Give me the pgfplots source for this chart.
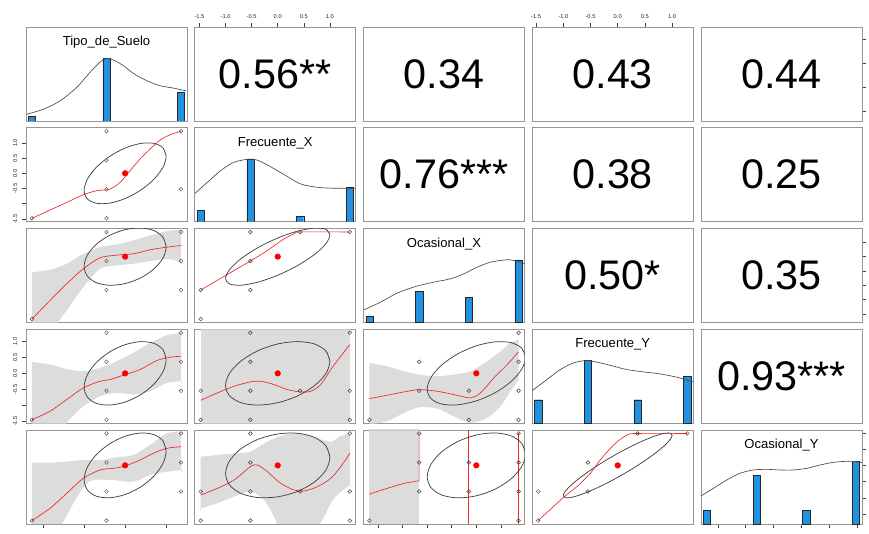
\documentclass[border=0pt]{standalone}
\usepackage{fontspec}
\setmainfont{Liberation Sans}
\usepackage{pgfplots}
\pgfplotsset{compat=1.18}
\definecolor{histblue}{RGB}{33,145,225}
\definecolor{bandgray}{RGB}{211,211,211}
\definecolor{framegray}{RGB}{150,150,150}
\definecolor{lored}{RGB}{240,40,40}
\def\xa{19.5pt}\def\xb{146.0625pt}\def\xc{272.625pt}\def\xd{399.1875pt}\def\xe{525.75pt}
\def\ya{309pt}\def\yb{233.4375pt}\def\yc{157.875pt}\def\yd{82.3125pt}\def\ye{6.75pt}
\tikzset{
  lab/.style={font=\fontsize{9.8}{11}\selectfont},
  cor/.style={font=\fontsize{31}{36}\selectfont},
}
\pgfplotsset{
  panel/.style={scale only axis, width=120.75pt, height=70.5pt, anchor=south west,
    axis line style={framegray, line width=0.7pt}, xtick=\empty, ytick=\empty, clip=true,
    major tick length=3pt, tick align=outside, tick style={black!75, line width=0.45pt},
    ticklabel style={font=\fontsize{4.3}{5}\selectfont, text=black!85}},
  xV1/.style={xmin=-2.417,xmax=1.509}, yV1/.style={ymin=-2.417,ymax=1.509},
  xV2/.style={xmin=-1.590,xmax=1.495}, yV2/.style={ymin=-1.590,ymax=1.495},
  xV3/.style={xmin=-2.297,xmax=0.981}, yV3/.style={ymin=-2.297,ymax=0.981},
  xV4/.style={xmin=-1.571,xmax=1.388}, yV4/.style={ymin=-1.571,ymax=1.388},
  xV5/.style={xmin=-1.805,xmax=1.090}, yV5/.style={ymin=-1.805,ymax=1.090},
  pts/.style={only marks, mark=o, mark size=1.4pt, color=black!75, mark options={line width=0.35pt}},
  band/.style={fill=bandgray, fill opacity=0.8, draw=none},
  lo/.style={draw=lored, color=lored, line width=0.5pt, no markers},
  ell/.style={color=black!75, line width=0.55pt, smooth, no markers},
  mn/.style={only marks, mark=*, color=red, mark size=2.1pt},
  dens/.style={color=black!70, line width=0.5pt, smooth, no markers},
  hb/.style={ybar, bar shift=0pt, fill=histblue, draw=black!85, line width=0.3pt},
}
\begin{document}
\begin{tikzpicture}
\path[use as bounding box] (0,0) rectangle (651.75pt,399.75pt);

% ================= Row 1 =================
\begin{axis}[panel, xV1, ymin=0, ymax=1.5, at={(\xa,\ya)}]
\addplot[hb, bar width=0.177] coordinates {(-2.272,0.0769) (-0.4545,1) (1.3635,0.4615)};
\addplot[dens] coordinates {(-2.401,0.107) (-1.994,0.188) (-1.588,0.321) (-1.181,0.536) (-0.856,0.777) (-0.613,0.938) (-0.466,1.0) (-0.287,0.975) (-0.044,0.884) (0.2,0.761) (0.526,0.643) (0.851,0.563) (1.176,0.525) (1.477,0.482)};
\node[lab] at (rel axis cs:0.5,0.835) {Tipo\_de\_Suelo};
\end{axis}

\begin{axis}[panel, xV2, yV1, at={(\xb,\ya)}, xtick={-1.5,-1,-0.5,0,0.5,1}, xticklabels={-1.5,-1.0,-0.5,0.0,0.5,1.0}, xtick pos=right, xticklabel pos=right]
\node[cor] at (rel axis cs:0.5,0.5) {0.56**};
\end{axis}

\begin{axis}[panel, xV3, yV1, at={(\xc,\ya)}]
\node[cor] at (rel axis cs:0.5,0.5) {0.34};
\end{axis}

\begin{axis}[panel, xV4, yV1, at={(\xd,\ya)}, xtick={-1.5,-1,-0.5,0,0.5,1}, xticklabels={-1.5,-1.0,-0.5,0.0,0.5,1.0}, xtick pos=right, xticklabel pos=right]
\node[cor] at (rel axis cs:0.5,0.5) {0.43};
\end{axis}

\begin{axis}[panel, xV5, yV1, at={(\xe,\ya)}, ytick={-2,-1,0,1}, yticklabels={}, ytick pos=right]
\node[cor] at (rel axis cs:0.5,0.5) {0.44};
\end{axis}

% ================= Row 2 =================
\begin{axis}[panel, xV1, yV2, at={(\xa,\yb)}, ytick={-1.5,-1,-0.5,0,0.5,1}, yticklabels={-1.5,,-0.5,0.0,0.5,1.0}, ytick pos=left, yticklabel style={rotate=90, anchor=south}]
\addplot[pts] coordinates {(-2.272,-1.476) (-0.4545,1.381) (-0.4545,0.429) (-0.4545,-0.524) (-0.4545,-1.476) (1.3635,1.381) (1.3635,-0.524)};
\addplot[lo, smooth] coordinates {(-2.272,-1.476) (-1.832,-1.207) (-1.425,-0.956) (-1.019,-0.704) (-0.694,-0.573) (-0.369,-0.518) (-0.125,-0.299) (0.119,0.084) (0.363,0.467) (0.607,0.795) (0.851,1.09) (1.095,1.265) (1.3635,1.381)};
\addplot[ell] coordinates {(1,0.56) (0.924,0.835) (0.707,0.982) (0.383,0.980) (0,0.829) (-0.383,0.551) (-0.707,0.190) (-0.924,-0.200) (-1,-0.56) (-0.924,-0.835) (-0.707,-0.982) (-0.383,-0.980) (0,-0.829) (0.383,-0.551) (0.707,-0.190) (0.924,0.200) (1,0.56) (0.924,0.835)};
\addplot[mn] coordinates {(0,0)};
\end{axis}

\begin{axis}[panel, xV2, ymin=0, ymax=1.5, at={(\xb,\yb)}]
\addplot[hb, bar width=0.139] coordinates {(-1.476,0.182) (-0.524,1) (0.429,0.0909) (1.381,0.545)};
\addplot[dens] coordinates {(-1.584,0.454) (-1.347,0.630) (-1.092,0.817) (-0.836,0.950) (-0.55,1.0) (-0.40,0.985) (-0.198,0.907) (0.122,0.753) (0.441,0.603) (0.760,0.550) (1.080,0.534) (1.335,0.534) (1.495,0.523)};
\node[lab] at (rel axis cs:0.5,0.835) {Frecuente\_X};
\end{axis}

\begin{axis}[panel, xV3, yV2, at={(\xc,\yb)}]
\node[cor] at (rel axis cs:0.5,0.5) {0.76***};
\end{axis}

\begin{axis}[panel, xV4, yV2, at={(\xd,\yb)}]
\node[cor] at (rel axis cs:0.5,0.5) {0.38};
\end{axis}

\begin{axis}[panel, xV5, yV2, at={(\xe,\yb)}]
\node[cor] at (rel axis cs:0.5,0.5) {0.25};
\end{axis}

% ================= Row 3 =================
\begin{axis}[panel, xV1, yV3, at={(\xa,\yc)}]
\addplot[pts] coordinates {(-2.272,-2.176) (-0.4545,0.860) (-0.4545,-0.152) (-0.4545,-1.164) (1.3635,0.860) (1.3635,-0.152) (1.3635,-1.164)};
\addplot[band, smooth] coordinates {(-2.272,-0.542) (-2.272,-0.542) (-1.832,-0.460) (-1.425,-0.251) (-1.019,0.098) (-0.613,0.330) (-0.206,0.423) (0.2,0.563) (0.607,0.737) (1.013,0.888) (1.3635,0.935) (1.3635,0.935) (1.3635,-0.193) (1.3635,-0.193) (1.013,-0.077) (0.607,-0.158) (0.2,-0.251) (-0.206,-0.309) (-0.613,-0.425) (-1.019,-1.065) (-1.425,-1.878) (-1.629,-2.285) (-1.832,-2.924) (-2.272,-3.62) (-2.272,-3.62) (-2.272,-0.542)};
\addplot[lo, smooth] coordinates {(-2.272,-2.176) (-1.832,-1.530) (-1.425,-0.948) (-1.019,-0.425) (-0.613,-0.042) (-0.206,0.051) (0.2,0.098) (0.607,0.237) (1.013,0.330) (1.3635,0.388)};
\addplot[ell] coordinates {(1,0.34) (0.924,0.674) (0.707,0.905) (0.383,0.999) (0,0.940) (-0.383,0.739) (-0.707,0.425) (-0.924,0.046) (-1,-0.34) (-0.924,-0.674) (-0.707,-0.905) (-0.383,-0.999) (0,-0.940) (0.383,-0.739) (0.707,-0.425) (0.924,-0.046) (1,0.34) (0.924,0.674)};
\addplot[mn] coordinates {(0,0)};
\end{axis}

\begin{axis}[panel, xV2, yV3, at={(\xb,\yc)}]
\addplot[pts] coordinates {(-1.476,-1.164) (-1.476,-2.176) (-0.524,0.860) (-0.524,-0.152) (-0.524,-1.164) (0.429,0.860) (1.381,0.860)};
\addplot[lo, smooth] coordinates {(-1.476,-1.164) (-0.524,-0.152) (-0.198,0.214) (0.122,0.621) (0.313,0.795) (0.429,0.860) (1.381,0.860)};
\addplot[ell] coordinates {(1,0.76) (0.924,0.951) (0.707,0.997) (0.383,0.892) (0,0.650) (-0.383,0.309) (-0.707,-0.078) (-0.924,-0.453) (-1,-0.76) (-0.924,-0.951) (-0.707,-0.997) (-0.383,-0.892) (0,-0.650) (0.383,-0.309) (0.707,0.078) (0.924,0.453) (1,0.76) (0.924,0.951)};
\addplot[mn] coordinates {(0,0)};
\end{axis}

\begin{axis}[panel, xV3, ymin=0, ymax=1.5, at={(\xc,\yc)}]
\addplot[hb, bar width=0.148] coordinates {(-2.176,0.1) (-1.164,0.5) (-0.152,0.4) (0.860,1)};
\addplot[dens] coordinates {(-2.290,0.202) (-1.951,0.324) (-1.612,0.468) (-1.238,0.574) (-0.865,0.644) (-0.526,0.697) (-0.254,0.777) (0.017,0.883) (0.289,0.963) (0.560,0.996) (0.68,1.0) (0.832,0.979) (0.981,0.936)};
\node[lab] at (rel axis cs:0.5,0.835) {Ocasional\_X};
\end{axis}

\begin{axis}[panel, xV4, yV3, at={(\xd,\yc)}]
\node[cor] at (rel axis cs:0.5,0.5) {0.50*};
\end{axis}

\begin{axis}[panel, xV5, yV3, at={(\xe,\yc)}, ytick={-2,-1.5,-1,-0.5,0,0.5}, yticklabels={}, ytick pos=right]
\node[cor] at (rel axis cs:0.5,0.5) {0.35};
\end{axis}

% ================= Row 4 =================
\begin{axis}[panel, xV1, yV4, at={(\xa,\yd)}, ytick={-1.5,-1,-0.5,0,0.5,1}, yticklabels={-1.5,,-0.5,0.0,0.5,1.0}, ytick pos=left, yticklabel style={rotate=90, anchor=south}]
\addplot[pts] coordinates {(-2.272,-1.461) (-0.4545,1.278) (-0.4545,0.365) (-0.4545,-0.548) (-0.4545,-1.461) (1.3635,1.278) (1.3635,0.365) (1.3635,-0.548)};
\addplot[band, smooth] coordinates {(-2.272,0.360) (-2.272,0.360) (-1.832,0.276) (-1.425,0.139) (-1.019,0.066) (-0.613,0.171) (-0.206,0.381) (0.2,0.643) (0.607,0.958) (1.013,1.199) (1.3635,1.273) (1.3635,1.273) (1.3635,-0.249) (1.3635,-0.249) (1.013,-0.302) (0.607,-0.564) (0.2,-0.669) (-0.206,-0.616) (-0.613,-0.721) (-1.019,-1.036) (-1.425,-1.561) (-1.832,-2.348) (-2.272,-3.082) (-2.272,-3.082) (-2.272,0.360)};
\addplot[lo, smooth] coordinates {(-2.272,-1.461) (-1.832,-1.193) (-1.425,-0.826) (-1.019,-0.459) (-0.613,-0.249) (-0.369,-0.196) (0,-0.039) (0.363,0.118) (0.770,0.402) (1.095,0.507) (1.3635,0.538)};
\addplot[ell] coordinates {(1,0.43) (0.924,0.743) (0.707,0.942) (0.383,0.999) (0,0.903) (-0.383,0.670) (-0.707,0.334) (-0.924,-0.052) (-1,-0.43) (-0.924,-0.743) (-0.707,-0.942) (-0.383,-0.999) (0,-0.903) (0.383,-0.670) (0.707,-0.334) (0.924,0.052) (1,0.43) (0.924,0.743)};
\addplot[mn] coordinates {(0,0)};
\end{axis}

\begin{axis}[panel, xV2, yV4, at={(\xb,\yd)}]
\addplot[pts] coordinates {(-1.476,-0.548) (-1.476,-1.461) (-0.524,1.278) (-0.524,0.365) (-0.524,-0.548) (-0.524,-1.461) (0.429,-0.548) (1.381,1.278) (1.381,-0.548) (1.381,-1.461)};
\addplot[band] coordinates {(-1.476,-3) (-1.476,3) (1.381,3) (1.381,-3)};
\addplot[lo, smooth] coordinates {(-1.476,-0.847) (-1.156,-0.616) (-0.836,-0.406) (-0.524,-0.270) (-0.325,-0.249) (-0.070,-0.354) (0.186,-0.511) (0.441,-0.585) (0.633,-0.564) (0.824,-0.354) (1.016,0.118) (1.207,0.538) (1.381,0.905)};
\addplot[ell] coordinates {(1,0.38) (0.924,0.705) (0.707,0.923) (0.383,1.0) (0,0.925) (-0.383,0.709) (-0.707,0.385) (-0.924,0.003) (-1,-0.38) (-0.924,-0.705) (-0.707,-0.923) (-0.383,-1.0) (0,-0.925) (0.383,-0.709) (0.707,-0.385) (0.924,-0.003) (1,0.38) (0.924,0.705)};
\addplot[mn] coordinates {(0,0)};
\end{axis}

\begin{axis}[panel, xV3, yV4, at={(\xc,\yd)}]
\addplot[pts] coordinates {(-2.176,-1.461) (-1.164,0.365) (-1.164,-0.548) (-0.152,-0.548) (-0.152,-1.461) (0.860,1.278) (0.860,0.365) (0.860,-0.548) (0.860,-1.461)};
\addplot[band, smooth] coordinates {(-2.176,0.328) (-2.176,0.328) (-1.815,0.223) (-1.476,0.066) (-1.157,-0.039) (-0.797,-0.092) (-0.458,-0.039) (-0.119,0.066) (0.221,0.381) (0.492,0.695) (0.696,0.958) (0.860,1.063) (0.860,1.063) (0.860,-0.196) (0.860,-0.196) (0.696,-0.564) (0.492,-1.036) (0.221,-1.403) (-0.119,-1.561) (-0.458,-1.351) (-0.797,-1.109) (-1.157,-1.067) (-1.476,-1.246) (-1.815,-1.508) (-2.176,-1.613) (-2.176,-1.613) (-2.176,0.328)};
\addplot[lo, smooth] coordinates {(-2.176,-0.795) (-1.815,-0.690) (-1.476,-0.585) (-1.157,-0.511) (-0.797,-0.564) (-0.458,-0.669) (-0.119,-0.774) (0.085,-0.616) (0.356,-0.144) (0.628,0.276) (0.860,0.675)};
\addplot[ell] coordinates {(1,0.5) (0.924,0.794) (0.707,0.966) (0.383,0.992) (0,0.866) (-0.383,0.609) (-0.707,0.259) (-0.924,-0.130) (-1,-0.5) (-0.924,-0.794) (-0.707,-0.966) (-0.383,-0.992) (0,-0.866) (0.383,-0.609) (0.707,-0.259) (0.924,0.130) (1,0.5) (0.924,0.794)};
\addplot[mn] coordinates {(0,0)};
\end{axis}

\begin{axis}[panel, xV4, ymin=0, ymax=1.5, at={(\xd,\yd)}]
\addplot[hb, bar width=0.134] coordinates {(-1.461,0.375) (-0.548,1) (0.365,0.375) (1.278,0.75)};
\addplot[dens] coordinates {(-1.571,0.521) (-1.301,0.697) (-1.056,0.856) (-0.811,0.963) (-0.566,1.0) (-0.321,0.963) (-0.076,0.910) (0.169,0.856) (0.475,0.819) (0.782,0.787) (1.088,0.734) (1.388,0.660)};
\node[lab] at (rel axis cs:0.5,0.835) {Frecuente\_Y};
\end{axis}

\begin{axis}[panel, xV5, yV4, at={(\xe,\yd)}]
\node[cor] at (rel axis cs:0.5,0.5) {0.93***};
\end{axis}

% ================= Row 5 =================
\begin{axis}[panel, xV1, yV5, at={(\xa,\ye)}, xtick={-2,-1,0,1}, xticklabels={}, xtick pos=left]
\addplot[pts] coordinates {(-2.272,-1.698) (-0.4545,0.983) (-0.4545,0.089) (-0.4545,-0.804) (-0.4545,-1.698) (1.3635,0.983) (1.3635,0.089) (1.3635,-0.804)};
\addplot[band, smooth] coordinates {(-2.272,0.084) (-2.272,0.084) (-1.832,0.084) (-1.425,0.115) (-1.019,0.166) (-0.613,0.166) (-0.206,0.248) (0.2,0.320) (0.607,0.628) (1.013,0.987) (1.3635,1.039) (1.3635,1.039) (1.3635,-0.142) (1.3635,-0.142) (0.688,-0.265) (0.2,-0.501) (-0.369,-0.45) (-0.938,-0.553) (-1.507,-1.733) (-1.832,-2.503) (-2.272,-3.222) (-2.272,-3.222) (-2.272,0.084)};
\addplot[lo, smooth] coordinates {(-2.272,-1.698) (-1.832,-1.323) (-1.425,-0.861) (-1.019,-0.399) (-0.613,-0.142) (-0.287,-0.091) (0,-0.019) (0.363,0.166) (0.688,0.371) (1.013,0.525) (1.3635,0.577)};
\addplot[ell] coordinates {(1,0.44) (0.924,0.751) (0.707,0.946) (0.383,0.998) (0,0.898) (-0.383,0.661) (-0.707,0.324) (-0.924,-0.063) (-1,-0.44) (-0.924,-0.751) (-0.707,-0.946) (-0.383,-0.998) (0,-0.898) (0.383,-0.661) (0.707,-0.324) (0.924,0.063) (1,0.44) (0.924,0.751)};
\addplot[mn] coordinates {(0,0)};
\end{axis}

\begin{axis}[panel, xV2, yV5, at={(\xb,\ye)}]
\addplot[pts] coordinates {(-1.476,-0.804) (-1.476,-1.698) (-0.524,0.983) (-0.524,0.089) (-0.524,-0.804) (-0.524,-1.698) (0.429,-0.804) (1.381,0.983) (1.381,-0.804) (1.381,-1.698)};
\addplot[band, smooth] coordinates {(-1.476,0.269) (-1.476,0.269) (-1.156,0.32) (-0.836,0.371) (-0.524,0.423) (-0.198,0.731) (0.122,0.936) (0.441,0.987) (0.760,0.833) (1.016,0.731) (1.207,0.905) (1.381,0.987) (1.381,0.987) (1.381,-0.604) (1.381,-0.604) (1.080,-1.015) (0.888,-1.579) (0.760,-1.887) (0.441,-2.195) (0.058,-1.99) (-0.070,-1.579) (-0.262,-1.066) (-0.524,-0.809) (-0.836,-0.963) (-1.156,-1.168) (-1.476,-1.323) (-1.476,-1.323) (-1.476,0.269)};
\addplot[lo, smooth] coordinates {(-1.476,-0.912) (-1.156,-0.707) (-0.836,-0.45) (-0.524,-0.039) (-0.389,0.012) (-0.198,-0.193) (0.058,-0.553) (0.313,-0.758) (0.505,-0.789) (0.760,-0.655) (1.016,-0.399) (1.207,-0.039) (1.381,0.371)};
\addplot[ell] coordinates {(1,0.25) (0.924,0.602) (0.707,0.861) (0.383,0.990) (0,0.968) (-0.383,0.799) (-0.707,0.508) (-0.924,0.140) (-1,-0.25) (-0.924,-0.602) (-0.707,-0.861) (-0.383,-0.990) (0,-0.968) (0.383,-0.799) (0.707,-0.508) (0.924,-0.140) (1,0.25) (0.924,0.602)};
\addplot[mn] coordinates {(0,0)};
\end{axis}

\begin{axis}[panel, xV3, yV5, at={(\xc,\ye)}, xtick={-2,-1.5,-1,-0.5,0,0.5}, xticklabels={}, xtick pos=left]
\addplot[pts] coordinates {(-2.176,-1.698) (-1.164,0.983) (-1.164,0.089) (-1.164,-0.804) (-0.152,0.089) (-0.152,-0.804) (0.860,0.983) (0.860,0.089) (0.860,-0.804) (0.860,-1.698)};
\addplot[band] coordinates {(-2.176,-3) (-2.176,3) (-1.164,3) (-1.164,-3)};
\addplot[lo] coordinates {(-2.176,-0.881) (-1.815,-0.707) (-1.476,-0.553) (-1.164,-0.471) (-1.164,0.983)};
\addplot[lo, line width=0.6pt] coordinates {(-0.152,-1.805) (-0.152,1.09)};
\addplot[lo] coordinates {(0.860,0.983) (0.860,-1.805)};
\addplot[ell] coordinates {(1,0.35) (0.924,0.682) (0.707,0.910) (0.383,1.0) (0,0.937) (-0.383,0.732) (-0.707,0.415) (-0.924,0.035) (-1,-0.35) (-0.924,-0.682) (-0.707,-0.910) (-0.383,-1.0) (0,-0.937) (0.383,-0.732) (0.707,-0.415) (0.924,-0.035) (1,0.35) (0.924,0.682)};
\addplot[mn] coordinates {(0,0)};
\end{axis}

\begin{axis}[panel, xV4, yV5, at={(\xd,\ye)}]
\addplot[pts] coordinates {(-1.461,-1.698) (-1.461,-0.804) (-0.548,0.089) (-0.548,-0.804) (0.365,0.983) (1.278,0.983)};
\addplot[lo, smooth] coordinates {(-1.461,-1.698) (-0.995,-0.984) (-0.750,-0.655) (-0.505,-0.245) (-0.321,0.166) (-0.076,0.628) (0.169,0.936) (0.365,0.983) (1.278,0.983)};
\addplot[ell] coordinates {(1,0.93) (0.966,0.993) (0.866,0.989) (0.707,0.918) (0.5,0.783) (0.259,0.596) (0,0.368) (-0.259,0.114) (-0.5,-0.147) (-0.707,-0.398) (-0.866,-0.622) (-0.966,-0.803) (-1,-0.93) (-0.966,-0.993) (-0.866,-0.989) (-0.707,-0.918) (-0.5,-0.783) (-0.259,-0.596) (0,-0.368) (0.259,-0.114) (0.5,0.147) (0.707,0.398) (0.866,0.622) (0.966,0.803) (1,0.93) (0.966,0.993)};
\addplot[mn] coordinates {(0,0)};
\end{axis}

\begin{axis}[panel, xV5, yV5, at={(\xe,\ye)}, xtick={-1.5,-1,-0.5,0,0.5,1}, xticklabels={}, xtick pos=left, ytick={-1.5,-1,-0.5,0,0.5,1}, yticklabels={}, ytick pos=right]
\end{axis}
\begin{axis}[panel, xV5, ymin=0, ymax=1.5, at={(\xe,\ye)}]
\addplot[hb, bar width=0.131] coordinates {(-1.698,0.222) (-0.804,0.778) (0.089,0.222) (0.983,1)};
\addplot[dens] coordinates {(-1.805,0.447) (-1.583,0.569) (-1.343,0.702) (-1.104,0.809) (-0.864,0.862) (-0.624,0.872) (-0.385,0.862) (-0.145,0.862) (0.095,0.888) (0.335,0.941) (0.575,0.984) (0.814,1.0) (0.994,0.995) (1.090,0.979)};
\node[lab] at (rel axis cs:0.5,0.835) {Ocasional\_Y};
\end{axis}
\end{tikzpicture}
\end{document}
